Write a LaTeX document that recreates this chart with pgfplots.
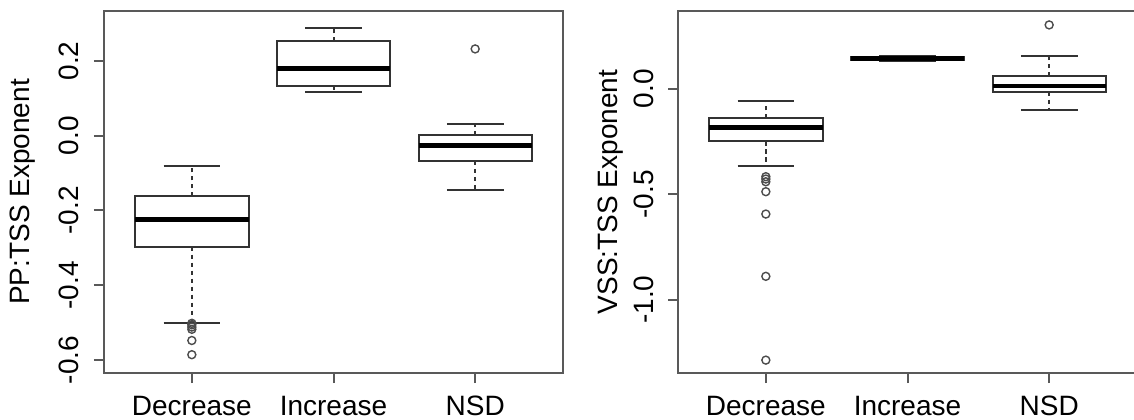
\documentclass[border=0pt]{standalone}
\usepackage{fontspec}
\setmainfont{Liberation Sans}
\usepackage{pgfplots}
\pgfplotsset{compat=1.18}
\usepgfplotslibrary{statistics}

\pgfplotsset{
  rpanel/.style={
    scale only axis, width=229.5bp, height=181bp,
    anchor=south west,
    xmin=0.38, xmax=3.62,
    xtick={1,2,3}, xticklabels={Decrease,Increase,NSD},
    tick align=outside, xtick pos=bottom, ytick pos=left,
    major tick length=5bp,
    axis line style={draw=black!65, line width=1bp},
    every tick/.style={draw=black!65, line width=1bp},
    xticklabel style={anchor=base, yshift=-16bp},
    yticklabel style={rotate=90, anchor=base, yshift=7.5bp},
    ylabel style={at={(axis description cs:0,0.5)}, anchor=base, yshift=37bp},
    boxplot/draw direction=y,
    boxplot/box extend=0.8,
    boxplot/whisker extend=0.4,
    boxplot/every box/.style={draw=black!80, line width=1bp},
    boxplot/every median/.style={draw=black, line width=2.4bp},
    boxplot/every whisker/.style={draw=black!80, line width=1bp},
    boxplot/draw/lower whisker/.code={%
      \draw[/pgfplots/boxplot/every whisker/.try, dash pattern=on 2.2bp off 1.8bp]
        (boxplot box cs:\pgfplotsboxplotvalue{lower quartile},0.5) --
        (boxplot box cs:\pgfplotsboxplotvalue{lower whisker},0.5);
      \draw[/pgfplots/boxplot/every whisker/.try]
        (boxplot whisker cs:\pgfplotsboxplotvalue{lower whisker},0) --
        (boxplot whisker cs:\pgfplotsboxplotvalue{lower whisker},1);
    },
    boxplot/draw/upper whisker/.code={%
      \draw[/pgfplots/boxplot/every whisker/.try, dash pattern=on 2.2bp off 1.8bp]
        (boxplot box cs:\pgfplotsboxplotvalue{upper quartile},0.5) --
        (boxplot box cs:\pgfplotsboxplotvalue{upper whisker},0.5);
      \draw[/pgfplots/boxplot/every whisker/.try]
        (boxplot whisker cs:\pgfplotsboxplotvalue{upper whisker},0) --
        (boxplot whisker cs:\pgfplotsboxplotvalue{upper whisker},1);
    },
  },
  rbox/.style={draw=black!80, mark=o,
    mark options={draw=black!70, line width=0.7bp, solid}, mark size=2bp},
}

\begin{document}
\fontsize{14bp}{17bp}\selectfont
\begin{tikzpicture}

% PP:TSS exponent by trend group
\begin{axis}[rpanel, at={(52bp,23.5bp)},
  ymin=-0.635, ymax=0.334,
  ytick={-0.6,-0.4,-0.2,0,0.2},
  yticklabels={-0.6,-0.4,-0.2,0.0,0.2},
  ylabel={PP:TSS Exponent}]
\addplot[rbox, boxplot prepared={draw position=1,
  lower whisker=-0.500, lower quartile=-0.297, median=-0.225,
  upper quartile=-0.1625, upper whisker=-0.082}]
  table[row sep=\\, y index=0] {v\\ -0.502\\ -0.506\\ -0.512\\ -0.518\\ -0.548\\ -0.586\\};
\addplot[rbox, boxplot prepared={draw position=2,
  lower whisker=0.116, lower quartile=0.133, median=0.181,
  upper quartile=0.253, upper whisker=0.289}]
  coordinates {};
\addplot[rbox, boxplot prepared={draw position=3,
  lower whisker=-0.145, lower quartile=-0.067, median=-0.025,
  upper quartile=0.001, upper whisker=0.031}]
  table[row sep=\\, y index=0] {v\\ 0.2325\\};
\end{axis}

% VSS:TSS exponent by trend group
\begin{axis}[rpanel, at={(339bp,23.5bp)},
  ymin=-1.347, ymax=0.368,
  ytick={-1,-0.5,0},
  yticklabels={-1.0,-0.5,0.0},
  ylabel style={yshift=-6.5bp},
  ylabel={VSS:TSS Exponent}]
\addplot[rbox, boxplot prepared={draw position=1,
  lower whisker=-0.367, lower quartile=-0.250, median=-0.185,
  upper quartile=-0.141, upper whisker=-0.057}]
  table[row sep=\\, y index=0] {v\\ -0.417\\ -0.428\\ -0.441\\ -0.488\\ -0.594\\ -0.889\\ -1.286\\};
\addplot[rbox, boxplot prepared={draw position=2,
  lower whisker=0.130, lower quartile=0.136, median=0.144,
  upper quartile=0.150, upper whisker=0.156}]
  coordinates {};
\addplot[rbox, boxplot prepared={draw position=3,
  lower whisker=-0.103, lower quartile=-0.014, median=0.0126,
  upper quartile=0.060, upper whisker=0.155}]
  table[row sep=\\, y index=0] {v\\ 0.302\\};
\end{axis}

\pgfresetboundingbox
\useasboundingbox (0,0) rectangle (567bp,210bp);
\end{tikzpicture}
\end{document}
